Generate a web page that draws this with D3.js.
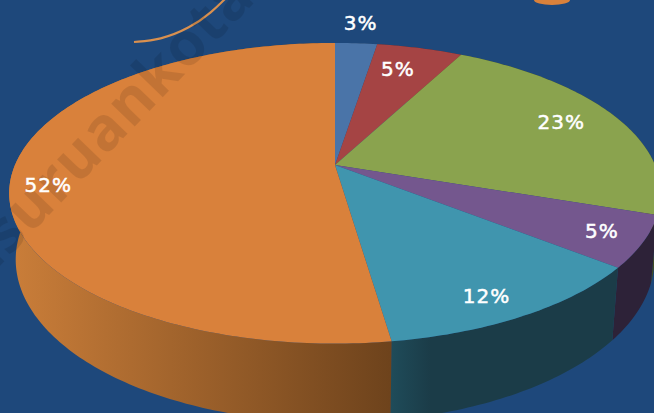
<!DOCTYPE html>
<html>
<head>
<meta charset="utf-8">
<script src="https://cdn.jsdelivr.net/npm/d3@7"></script>
<style>
  html, body { margin: 0; padding: 0; background: #1e487b; overflow: hidden; }
</style>
</head>
<body>
<div id="myChart"></div>
<script>
// Data
const categories = ["A", "B", "C", "D", "E", "F"];
const series_values = [2.5, 5.1, 22.65, 5.5, 11.95, 52.3];
const value_labels = ["3%", "5%", "23%", "5%", "12%", "52%"];

// Slice colours
const top_colors = ["#4a74a8", "#a54444", "#8aa34e", "#74578e", "#4095ae", "#d9813b"];
const wall_colors = ["#2c4564", "#622828", "#3f4b24", "#2d2238", "url(#wallCyan)", "url(#wallOrange)"];

// Label placement along each slice's middle
const label_radius = [1.2, 0.8, 0.85, 0.87, 0.89, 0.9];
const label_nudge = [[1, 0], [-7, 0], [-12, 0], [2, 0], [-14, 0], [4, 10]];

const width = 654;
const height = 413;

// The pie lies on a tilted plane, seen in perspective
const cx = 335, cy = 165;
const rx = 320, ry = 145;
const persp = -0.188;
const wall_depth = 64;
const wall_shrink = 0.98;

const x_scale = d3.scaleLinear().domain([-1, 1]).range([-rx, rx]);
const y_scale = d3.scaleLinear().domain([-1, 1]).range([-ry, ry]);

function project(angle, r, below) {
    const u = r * Math.sin(angle);
    const v = -r * Math.cos(angle);
    const w = 1 + persp * v;
    if (below) {
        return [cx + wall_shrink * x_scale(u) / w, cy + (y_scale(v) + wall_depth) / w];
    }
    return [cx + x_scale(u) / w, cy + y_scale(v) / w];
}

function arcPoints(a0, a1, below) {
    const n = Math.max(4, Math.ceil((a1 - a0) * 60));
    return d3.range(n + 1).map(i => project(a0 + (a1 - a0) * i / n, 1, below));
}

const line = d3.line();

const svg = d3.select("#myChart")
    .append("svg")
    .attr("width", width)
    .attr("height", height)
    .style("display", "block");

svg.append("rect")
    .attr("width", width)
    .attr("height", height)
    .attr("fill", "#1e487b");

// Wall gradients
const defs = svg.append("defs");
const wallOrange = defs.append("linearGradient")
    .attr("id", "wallOrange")
    .attr("gradientUnits", "userSpaceOnUse")
    .attr("x1", 15).attr("x2", 390).attr("y1", 0).attr("y2", 0);
wallOrange.append("stop").attr("offset", 0).attr("stop-color", "#c97d39");
wallOrange.append("stop").attr("offset", 1).attr("stop-color", "#6e431c");

const wallCyan = defs.append("linearGradient")
    .attr("id", "wallCyan")
    .attr("gradientUnits", "userSpaceOnUse")
    .attr("x1", 390).attr("x2", 430).attr("y1", 0).attr("y2", 0);
wallCyan.append("stop").attr("offset", 0).attr("stop-color", "#1f4c5a");
wallCyan.append("stop").attr("offset", 1).attr("stop-color", "#1b3c48");

// Bits of the logo behind the chart
svg.append("path")
    .attr("d", d3.line().curve(d3.curveBasis)([[134, 42], [160, 40], [190, 28], [212, 12], [226, -2]]))
    .attr("fill", "none")
    .attr("stroke", "#d9904f")
    .attr("stroke-width", 2.2);
svg.append("ellipse")
    .attr("cx", 552).attr("cy", 0)
    .attr("rx", 18).attr("ry", 5)
    .attr("fill", "#d9813b");

const pie = d3.pie().sort(null).value(d => d);
const slices = pie(series_values);

// Walls first, the top faces cover whatever lies behind them
svg.append("g")
    .selectAll("path")
    .data(slices)
    .enter()
    .append("path")
    .attr("d", d => line(arcPoints(d.startAngle, d.endAngle, false)
        .concat(arcPoints(d.startAngle, d.endAngle, true).reverse())) + "Z")
    .attr("fill", (d, i) => wall_colors[i]);

svg.append("g")
    .selectAll("path")
    .data(slices)
    .enter()
    .append("path")
    .attr("d", d => line([[cx, cy]].concat(arcPoints(d.startAngle, d.endAngle, false))) + "Z")
    .attr("fill", (d, i) => top_colors[i]);

// Watermark
svg.append("text")
    .attr("transform", "translate(-5,271) rotate(-46)")
    .attr("font-family", "'Open Sans', sans-serif")
    .attr("font-weight", 700)
    .attr("font-size", 60)
    .attr("letter-spacing", 1)
    .attr("fill", "#000")
    .attr("fill-opacity", 0.1)
    .text("isuruankota");

// Value labels
svg.append("g")
    .selectAll("text")
    .data(slices)
    .enter()
    .append("text")
    .attr("x", (d, i) => project((d.startAngle + d.endAngle) / 2, label_radius[i], false)[0] + label_nudge[i][0])
    .attr("y", (d, i) => project((d.startAngle + d.endAngle) / 2, label_radius[i], false)[1] + label_nudge[i][1] + 7)
    .attr("text-anchor", "middle")
    .attr("font-family", "'DejaVu Sans', sans-serif")
    .attr("font-size", 20)
    .attr("letter-spacing", 1)
    .attr("fill", "#fff")
    .attr("stroke", "#fff")
    .attr("stroke-width", 0.5)
    .text((d, i) => value_labels[i]);
</script>
</body>
</html>
